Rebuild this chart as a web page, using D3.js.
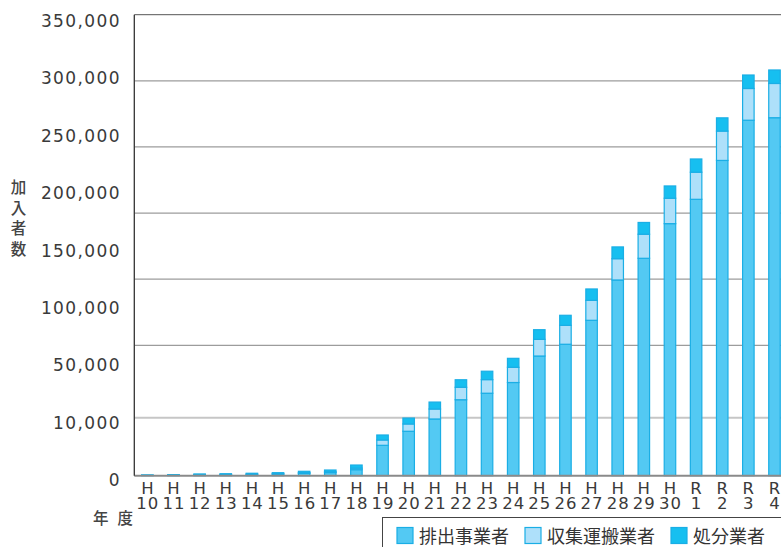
<!DOCTYPE html>
<html>
<head>
<meta charset="utf-8">
<script src="https://cdn.jsdelivr.net/npm/d3@7"></script>
<style>
  body { margin: 0; background: #fff; }
  svg { display: block; }
</style>
</head>
<body>
<svg id="chart" width="781" height="547"></svg>
<script>
// 年度 (平成10年度〜令和4年度)
const years = ["H10","H11","H12","H13","H14","H15","H16","H17","H18","H19","H20","H21","H22","H23","H24","H25","H26","H27","H28","H29","H30","R1","R2","R3","R4"];

// 加入者数の内訳
const haishutsu = [300,450,750,850,1050,1300,2000,2700,5200,26200,38300,48900,62400,66900,74300,92600,100800,118900,149400,165800,192000,210400,239800,270200,272100];
const shushu    = [100,150,250,300,350,450,600,700,1300,4600,6300,7100,8600,9400,10500,11900,14300,15100,16100,18200,19200,20500,22200,24000,25900];
const shobun    = [200,300,500,550,700,850,1200,1500,2700,4300,5100,4800,5200,5800,6200,7300,7600,8600,8900,8900,9300,10000,10000,10200,10200];

const seriesNames = ["排出事業者", "収集運搬業者", "処分業者"];

// 目盛り線の値と軸ラベル
const gridValues = [50000, 100000, 150000, 200000, 250000, 300000];
const yTickLabels = ["350,000","300,000","250,000","200,000","150,000","100,000","50,000","10,000","0"];

const colors = { "排出事業者": "#53c9f3", "収集運搬業者": "#aee0fa", "処分業者": "#16bff0" };
const edge = "#1aaee5";

const svg = d3.select("#chart");
const W = 781;

const x = d3.scaleBand()
  .domain(years)
  .range([134.3, 134.3 + 26.13 * years.length])
  .paddingInner(0.56)
  .paddingOuter(0.28);

const y = d3.scaleLinear()
  .domain([0, 50000, 100000, 350000])
  .range([475.7, 417.7, 345.3, 14.7]);

const rows = years.map((yr, i) => ({
  year: yr,
  "排出事業者": haishutsu[i],
  "収集運搬業者": shushu[i],
  "処分業者": shobun[i]
}));
const stacked = d3.stack().keys(seriesNames)(rows);

// 目盛り線
svg.append("g").selectAll("line")
  .data(gridValues)
  .join("line")
  .attr("x1", x.range()[0]).attr("x2", W)
  .attr("y1", d => y(d)).attr("y2", d => y(d))
  .attr("stroke", d => d === 50000 ? "#c6c6c6" : "#9c9c9c")
  .attr("stroke-width", d => d === 50000 ? 2 : 1.3);

// 上端の枠線
svg.append("line")
  .attr("x1", x.range()[0]).attr("x2", W)
  .attr("y1", y(350000)).attr("y2", y(350000))
  .attr("stroke", "#555").attr("stroke-width", 1);

// 積み上げ棒
svg.append("g").selectAll("g")
  .data(stacked)
  .join("g")
  .attr("fill", s => colors[s.key])
  .selectAll("rect")
  .data(s => s)
  .join("rect")
  .attr("x", d => x(d.data.year))
  .attr("y", d => y(d[1]))
  .attr("width", x.bandwidth())
  .attr("height", d => Math.max(0, y(d[0]) - y(d[1])))
  .attr("stroke", edge)
  .attr("stroke-width", 1.2);

// 基線
svg.append("line")
  .attr("x1", x.range()[0]).attr("x2", W)
  .attr("y1", y(0)).attr("y2", y(0))
  .attr("stroke", "#8a8a8a").attr("stroke-width", 2);

// 縦軸線
svg.append("line")
  .attr("x1", x.range()[0]).attr("x2", x.range()[0])
  .attr("y1", y(350000)).attr("y2", y(0))
  .attr("stroke", "#333").attr("stroke-width", 1.3);

// 縦軸ラベル
const labelY = d3.scalePoint().domain(yTickLabels).range([21, 480]);
const numFont = "'DejaVu Sans', sans-serif";
svg.append("g").selectAll("text")
  .data(yTickLabels)
  .join("text")
  .attr("x", 121)
  .attr("y", d => labelY(d))
  .attr("text-anchor", "end")
  .attr("dominant-baseline", "central")
  .attr("font-family", numFont)
  .attr("font-size", 17)
  .attr("letter-spacing", 1.4)
  .attr("fill", "#3a3a3a")
  .text(d => d);

// 横軸ラベル (元号の頭文字と年を2行で)
const xl = svg.append("g").attr("font-family", numFont).attr("font-size", 16.5)
  .attr("fill", "#3a3a3a").attr("text-anchor", "middle");
const xt = xl.selectAll("text")
  .data(years)
  .join("text")
  .attr("y", 494);
xt.append("tspan")
  .attr("x", d => x(d) + x.bandwidth() / 2)
  .text(d => d.slice(0, 1));
xt.append("tspan")
  .attr("x", d => x(d) + x.bandwidth() / 2 + 0.5)
  .attr("dy", 15)
  .attr("letter-spacing", 1)
  .text(d => d.slice(1));

const jpFont = "'Noto Sans CJK JP', sans-serif";

// 縦軸タイトル
const yTitle = ["加", "入", "者", "数"];
svg.append("g").selectAll("text")
  .data(yTitle)
  .join("text")
  .attr("x", 18.5)
  .attr("y", (d, i) => 186 + i * 20.5)
  .attr("text-anchor", "middle")
  .attr("dominant-baseline", "central")
  .attr("font-family", jpFont)
  .attr("font-size", 15.5)
  .attr("font-weight", 500)
  .attr("fill", "#444")
  .text(d => d);

// 横軸タイトル
svg.append("text")
  .attr("x", 93)
  .attr("y", 517)
  .attr("dominant-baseline", "central")
  .attr("font-family", jpFont)
  .attr("font-size", 15.5)
  .attr("font-weight", 500)
  .attr("letter-spacing", 9)
  .attr("fill", "#444")
  .text("年度");

// 凡例
const legend = svg.append("g");
legend.append("rect")
  .attr("x", 382.5).attr("y", 517.5)
  .attr("width", 420).attr("height", 60)
  .attr("fill", "#fff").attr("stroke", "#444").attr("stroke-width", 1);

let lx = 397;
seriesNames.forEach(name => {
  legend.append("rect")
    .attr("x", lx).attr("y", 527.5)
    .attr("width", 16).attr("height", 16)
    .attr("fill", colors[name])
    .attr("stroke", edge).attr("stroke-width", 1.2);
  const t = legend.append("text")
    .attr("x", lx + 22)
    .attr("y", 535)
    .attr("dominant-baseline", "central")
    .attr("font-family", jpFont)
    .attr("font-size", 18)
    .attr("fill", "#333")
    .text(name);
  lx += 22 + t.node().getComputedTextLength() + 16;
});
</script>
</body>
</html>
